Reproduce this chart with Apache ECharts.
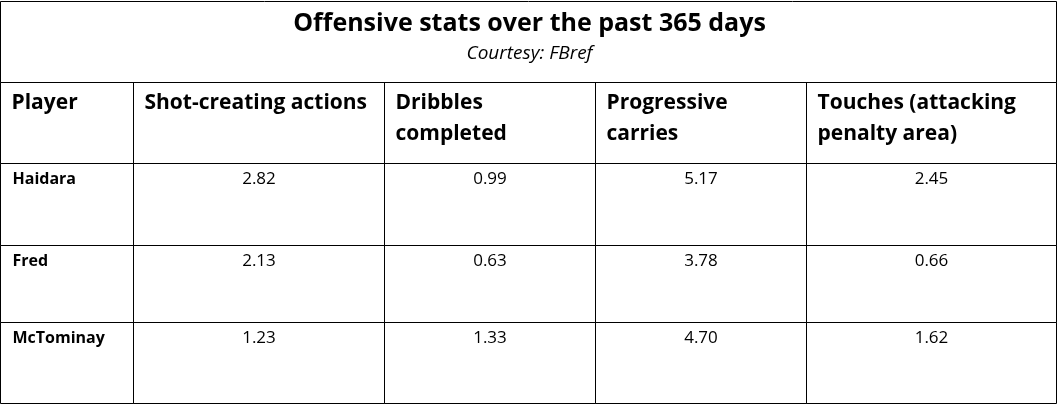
<!DOCTYPE html>
<html>
<head>
<meta charset="utf-8">
<script src="https://cdn.jsdelivr.net/npm/echarts@6/dist/echarts.min.js"></script>
<style>
  html, body { margin: 0; padding: 0; background: #fff; }
  #main { width: 1059px; height: 406px; }
</style>
</head>
<body>
<div id="main"></div>
<script>
// table data
const headers = ['Player', 'Shot-creating actions', 'Dribbles\ncompleted', 'Progressive\ncarries', 'Touches (attacking\npenalty area)']
const players = ['Haidara', 'Fred', 'McTominay']
const shotCreating = [2.82, 2.13, 1.23]
const dribbles = [0.99, 0.63, 1.33]
const progCarries = [5.17, 3.78, 4.70]
const boxTouches = [2.45, 0.66, 1.62]

// layout (px from grid origin)
const colEdges = [0, 133, 384, 595, 806, 1056]
const rowEdges = [0, 81, 162, 244, 321, 402]
const FONT = '"Open Sans"'

// build the cell list: title row spans all columns
const cells = [{ c0: 0, c1: 5, r: 0, text: '', kind: 'title' }]
headers.forEach((h, i) => cells.push({ c0: i, c1: i + 1, r: 1, text: h, kind: 'head' }))
const stats = [shotCreating, dribbles, progCarries, boxTouches]
players.forEach((p, j) => {
  cells.push({ c0: 0, c1: 1, r: j + 2, text: p, kind: 'name' })
  stats.forEach((s, i) => cells.push({ c0: i + 1, c1: i + 2, r: j + 2, text: s[j].toFixed(2), kind: 'val' }))
})

function renderCell(params, api) {
  const c = cells[params.dataIndex]
  const p0 = api.coord([colEdges[c.c0], rowEdges[c.r]])
  const p1 = api.coord([colEdges[c.c1], rowEdges[c.r + 1]])
  const children = [{
    type: 'rect',
    shape: { x: p0[0], y: p0[1], width: p1[0] - p0[0], height: p1[1] - p0[1] },
    style: { fill: null, stroke: '#000', lineWidth: 1 }
  }]
  if (c.kind === 'head') {
    children.push({
      type: 'text',
      style: {
        x: p0[0] + 11, y: p0[1] + 5, text: c.text,
        font: 'bold 21px ' + FONT, lineHeight: 31,
        fill: '#000', align: 'left', verticalAlign: 'top'
      }
    })
  } else if (c.kind === 'name') {
    children.push({
      type: 'text',
      style: {
        x: p0[0] + 12, y: p0[1] + 8, text: c.text,
        font: 'bold 16px ' + FONT, fill: '#000', align: 'left', verticalAlign: 'top'
      }
    })
  } else if (c.kind === 'val') {
    children.push({
      type: 'text',
      style: {
        x: (p0[0] + p1[0]) / 2, y: p0[1] + 7, text: c.text,
        font: '17px ' + FONT, fill: '#000', align: 'center', verticalAlign: 'top'
      }
    })
  }
  return { type: 'group', children }
}

const chart = echarts.init(document.getElementById('main'))
chart.setOption({
  backgroundColor: '#fff',
  animation: false,
  title: {
    text: 'Offensive stats over the past 365 days',
    subtext: 'Courtesy: FBref',
    left: 'center',
    top: 6,
    itemGap: 8,
    textStyle: { fontFamily: FONT, fontSize: 25, fontWeight: 'bold', color: '#000' },
    subtextStyle: { fontFamily: FONT, fontSize: 19, fontStyle: 'italic', color: '#000' }
  },
  grid: { left: 0.5, top: 1.5, width: 1056, height: 402 },
  xAxis: { type: 'value', min: 0, max: 1056, show: false },
  yAxis: { type: 'value', min: 0, max: 402, inverse: true, show: false },
  series: [{
    type: 'custom',
    renderItem: renderCell,
    clip: false,
    data: cells.map(c => [colEdges[c.c0], rowEdges[c.r]])
  }]
})
</script>
</body>
</html>
